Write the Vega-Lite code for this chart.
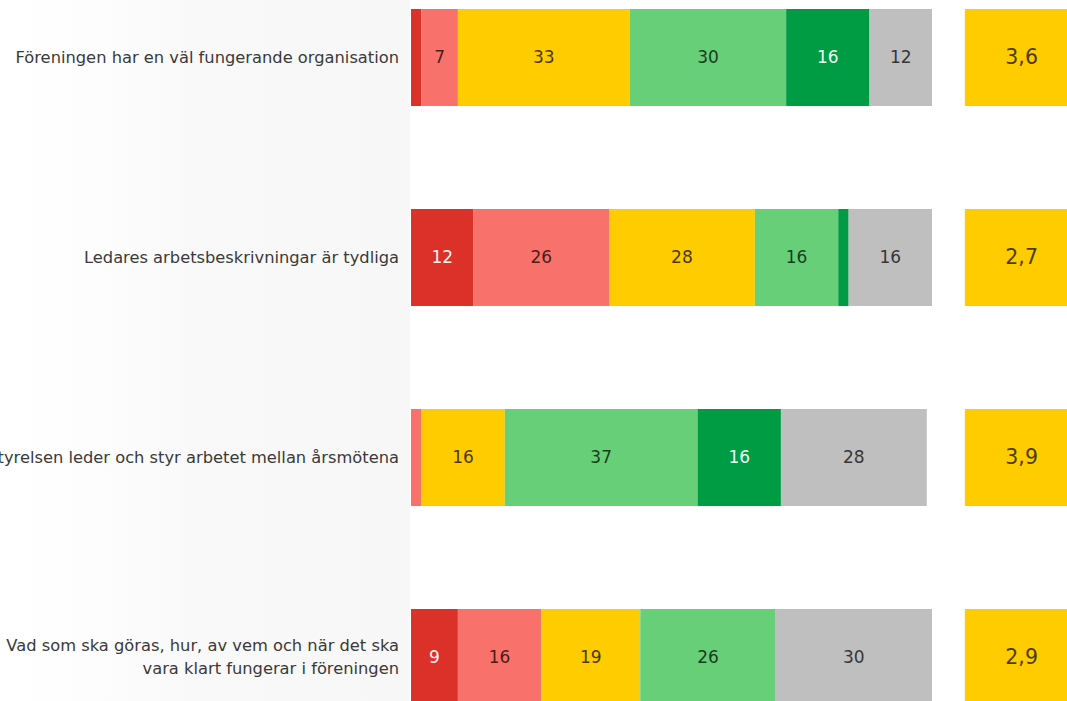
{
  "$schema": "https://vega.github.io/schema/vega-lite/v6.json",
  "width": 1067,
  "height": 701,
  "padding": 0,
  "autosize": {"type": "none"},
  "background": "#ffffff",
  "config": {
    "view": {"stroke": null},
    "locale": {"number": {"decimal": ",", "thousands": " ", "grouping": [3], "currency": ["", " kr"]}}
  },
  "datasets": {
    "questions": [
      {"q": 1, "question": "Föreningen har en väl fungerande organisation", "score": 3.6},
      {"q": 2, "question": "Ledares arbetsbeskrivningar är tydliga", "score": 2.7},
      {"q": 3, "question": "Styrelsen leder och styr arbetet mellan årsmötena", "score": 3.9},
      {"q": 4, "question": "Vad som ska göras, hur, av vem och när det ska\nvara klart fungerar i föreningen", "score": 2.9}
    ],
    "answers": [
      {"question": "Föreningen har en väl fungerande organisation", "k": 1, "answer": "Stämmer inte alls", "value": 2},
      {"question": "Föreningen har en väl fungerande organisation", "k": 2, "answer": "Stämmer dåligt", "value": 7},
      {"question": "Föreningen har en väl fungerande organisation", "k": 3, "answer": "Stämmer delvis", "value": 33},
      {"question": "Föreningen har en väl fungerande organisation", "k": 4, "answer": "Stämmer bra", "value": 30},
      {"question": "Föreningen har en väl fungerande organisation", "k": 5, "answer": "Stämmer helt", "value": 16},
      {"question": "Föreningen har en väl fungerande organisation", "k": 6, "answer": "Vet ej", "value": 12},
      {"question": "Ledares arbetsbeskrivningar är tydliga", "k": 1, "answer": "Stämmer inte alls", "value": 12},
      {"question": "Ledares arbetsbeskrivningar är tydliga", "k": 2, "answer": "Stämmer dåligt", "value": 26},
      {"question": "Ledares arbetsbeskrivningar är tydliga", "k": 3, "answer": "Stämmer delvis", "value": 28},
      {"question": "Ledares arbetsbeskrivningar är tydliga", "k": 4, "answer": "Stämmer bra", "value": 16},
      {"question": "Ledares arbetsbeskrivningar är tydliga", "k": 5, "answer": "Stämmer helt", "value": 2},
      {"question": "Ledares arbetsbeskrivningar är tydliga", "k": 6, "answer": "Vet ej", "value": 16},
      {"question": "Styrelsen leder och styr arbetet mellan årsmötena", "k": 2, "answer": "Stämmer dåligt", "value": 2},
      {"question": "Styrelsen leder och styr arbetet mellan årsmötena", "k": 3, "answer": "Stämmer delvis", "value": 16},
      {"question": "Styrelsen leder och styr arbetet mellan årsmötena", "k": 4, "answer": "Stämmer bra", "value": 37},
      {"question": "Styrelsen leder och styr arbetet mellan årsmötena", "k": 5, "answer": "Stämmer helt", "value": 16},
      {"question": "Styrelsen leder och styr arbetet mellan årsmötena", "k": 6, "answer": "Vet ej", "value": 28},
      {"question": "Vad som ska göras, hur, av vem och när det ska\nvara klart fungerar i föreningen", "k": 1, "answer": "Stämmer inte alls", "value": 9},
      {"question": "Vad som ska göras, hur, av vem och när det ska\nvara klart fungerar i föreningen", "k": 2, "answer": "Stämmer dåligt", "value": 16},
      {"question": "Vad som ska göras, hur, av vem och när det ska\nvara klart fungerar i föreningen", "k": 3, "answer": "Stämmer delvis", "value": 19},
      {"question": "Vad som ska göras, hur, av vem och när det ska\nvara klart fungerar i föreningen", "k": 4, "answer": "Stämmer bra", "value": 26},
      {"question": "Vad som ska göras, hur, av vem och när det ska\nvara klart fungerar i föreningen", "k": 6, "answer": "Vet ej", "value": 30}
    ]
  },
  "resolve": {"scale": {"x": "shared", "y": "shared"}},
  "layer": [
    {
      "data": {"values": [{"bg": 1}]},
      "mark": {
        "type": "rect",
        "color": {
          "gradient": "linear",
          "x1": 0, "x2": 1, "y1": 0, "y2": 0,
          "stops": [
            {"offset": 0, "color": "#ffffff"},
            {"offset": 0.25, "color": "#fdfdfd"},
            {"offset": 0.45, "color": "#f9f9f9"},
            {"offset": 1, "color": "#f7f7f7"}
          ]
        }
      },
      "encoding": {
        "x": {"datum": -78.89, "type": "quantitative", "scale": {"domain": [-78.89, 125.91], "nice": false, "zero": false}, "axis": null},
        "x2": {"datum": -0.2}
      }
    },
    {
      "data": {"name": "answers"},
      "transform": [
        {"stack": "value", "groupby": ["question"], "sort": [{"field": "k", "order": "ascending"}], "as": ["x0", "x1"]}
      ],
      "layer": [
        {
          "mark": {"type": "bar"},
          "encoding": {
            "x": {"field": "x0", "type": "quantitative"},
            "x2": {"field": "x1"},
            "color": {
              "field": "answer",
              "type": "nominal",
              "scale": {
                "domain": ["Stämmer inte alls", "Stämmer dåligt", "Stämmer delvis", "Stämmer bra", "Stämmer helt", "Vet ej"],
                "range": ["#dc3129", "#f8716a", "#ffcc00", "#67cf78", "#009c43", "#bfbfbf"]
              },
              "legend": null
            }
          }
        },
        {
          "transform": [
            {"filter": "datum.value >= 5"},
            {"fold": ["x0", "x1"], "as": ["edge", "pos"]},
            {"aggregate": [{"op": "mean", "field": "pos", "as": "mid"}], "groupby": ["question", "k", "value"]}
          ],
          "mark": {"type": "text", "font": "DejaVu Sans", "fontSize": 17, "align": "center", "baseline": "middle"},
          "encoding": {
            "x": {"field": "mid", "type": "quantitative"},
            "text": {"field": "value", "type": "quantitative", "format": "d"},
            "color": {"condition": {"test": "datum.k == 1 || datum.k == 5", "value": "#ffffff"}, "value": "#000000"},
            "opacity": {"condition": {"test": "datum.k == 1 || datum.k == 5", "value": 0.95}, "value": 0.72}
          }
        }
      ],
      "encoding": {
        "y": {
          "field": "question",
          "type": "nominal",
          "sort": null,
          "scale": {
            "domain": [
              "Föreningen har en väl fungerande organisation",
              "Ledares arbetsbeskrivningar är tydliga",
              "Styrelsen leder och styr arbetet mellan årsmötena",
              "Vad som ska göras, hur, av vem och när det ska\nvara klart fungerar i föreningen"
            ],
            "range": [-42.5, 757.5],
            "paddingInner": 0.515,
            "paddingOuter": 0.2575
          },
          "axis": null
        }
      }
    },
    {
      "data": {"name": "questions"},
      "layer": [
        {
          "transform": [{"filter": "datum.q < 4"}],
          "mark": {"type": "text", "font": "DejaVu Sans", "fontSize": 16.3, "align": "right", "baseline": "middle", "color": "#3a3a3a"},
          "encoding": {
            "x": {"datum": -2.3, "type": "quantitative"},
            "text": {"field": "question", "type": "nominal"}
          }
        },
        {
          "transform": [{"filter": "datum.q == 4"}],
          "mark": {"type": "text", "font": "DejaVu Sans", "fontSize": 16.3, "align": "right", "baseline": "middle", "color": "#3a3a3a", "lineBreak": "\n", "lineHeight": 23, "dy": -11.5},
          "encoding": {
            "x": {"datum": -2.3, "type": "quantitative"},
            "text": {"field": "question", "type": "nominal"}
          }
        },
        {
          "mark": {"type": "rect", "color": "#ffcc00", "clip": true},
          "encoding": {
            "x": {"datum": 106.3, "type": "quantitative"},
            "x2": {"datum": 128}
          }
        },
        {
          "mark": {"type": "text", "font": "DejaVu Sans", "fontSize": 20.5, "align": "center", "baseline": "middle", "color": "#000000", "opacity": 0.7},
          "encoding": {
            "x": {"datum": 117.2, "type": "quantitative"},
            "text": {"field": "score", "type": "quantitative", "format": ".1f"}
          }
        }
      ],
      "encoding": {
        "y": {"field": "question", "type": "nominal", "sort": null, "axis": null}
      }
    }
  ]
}
